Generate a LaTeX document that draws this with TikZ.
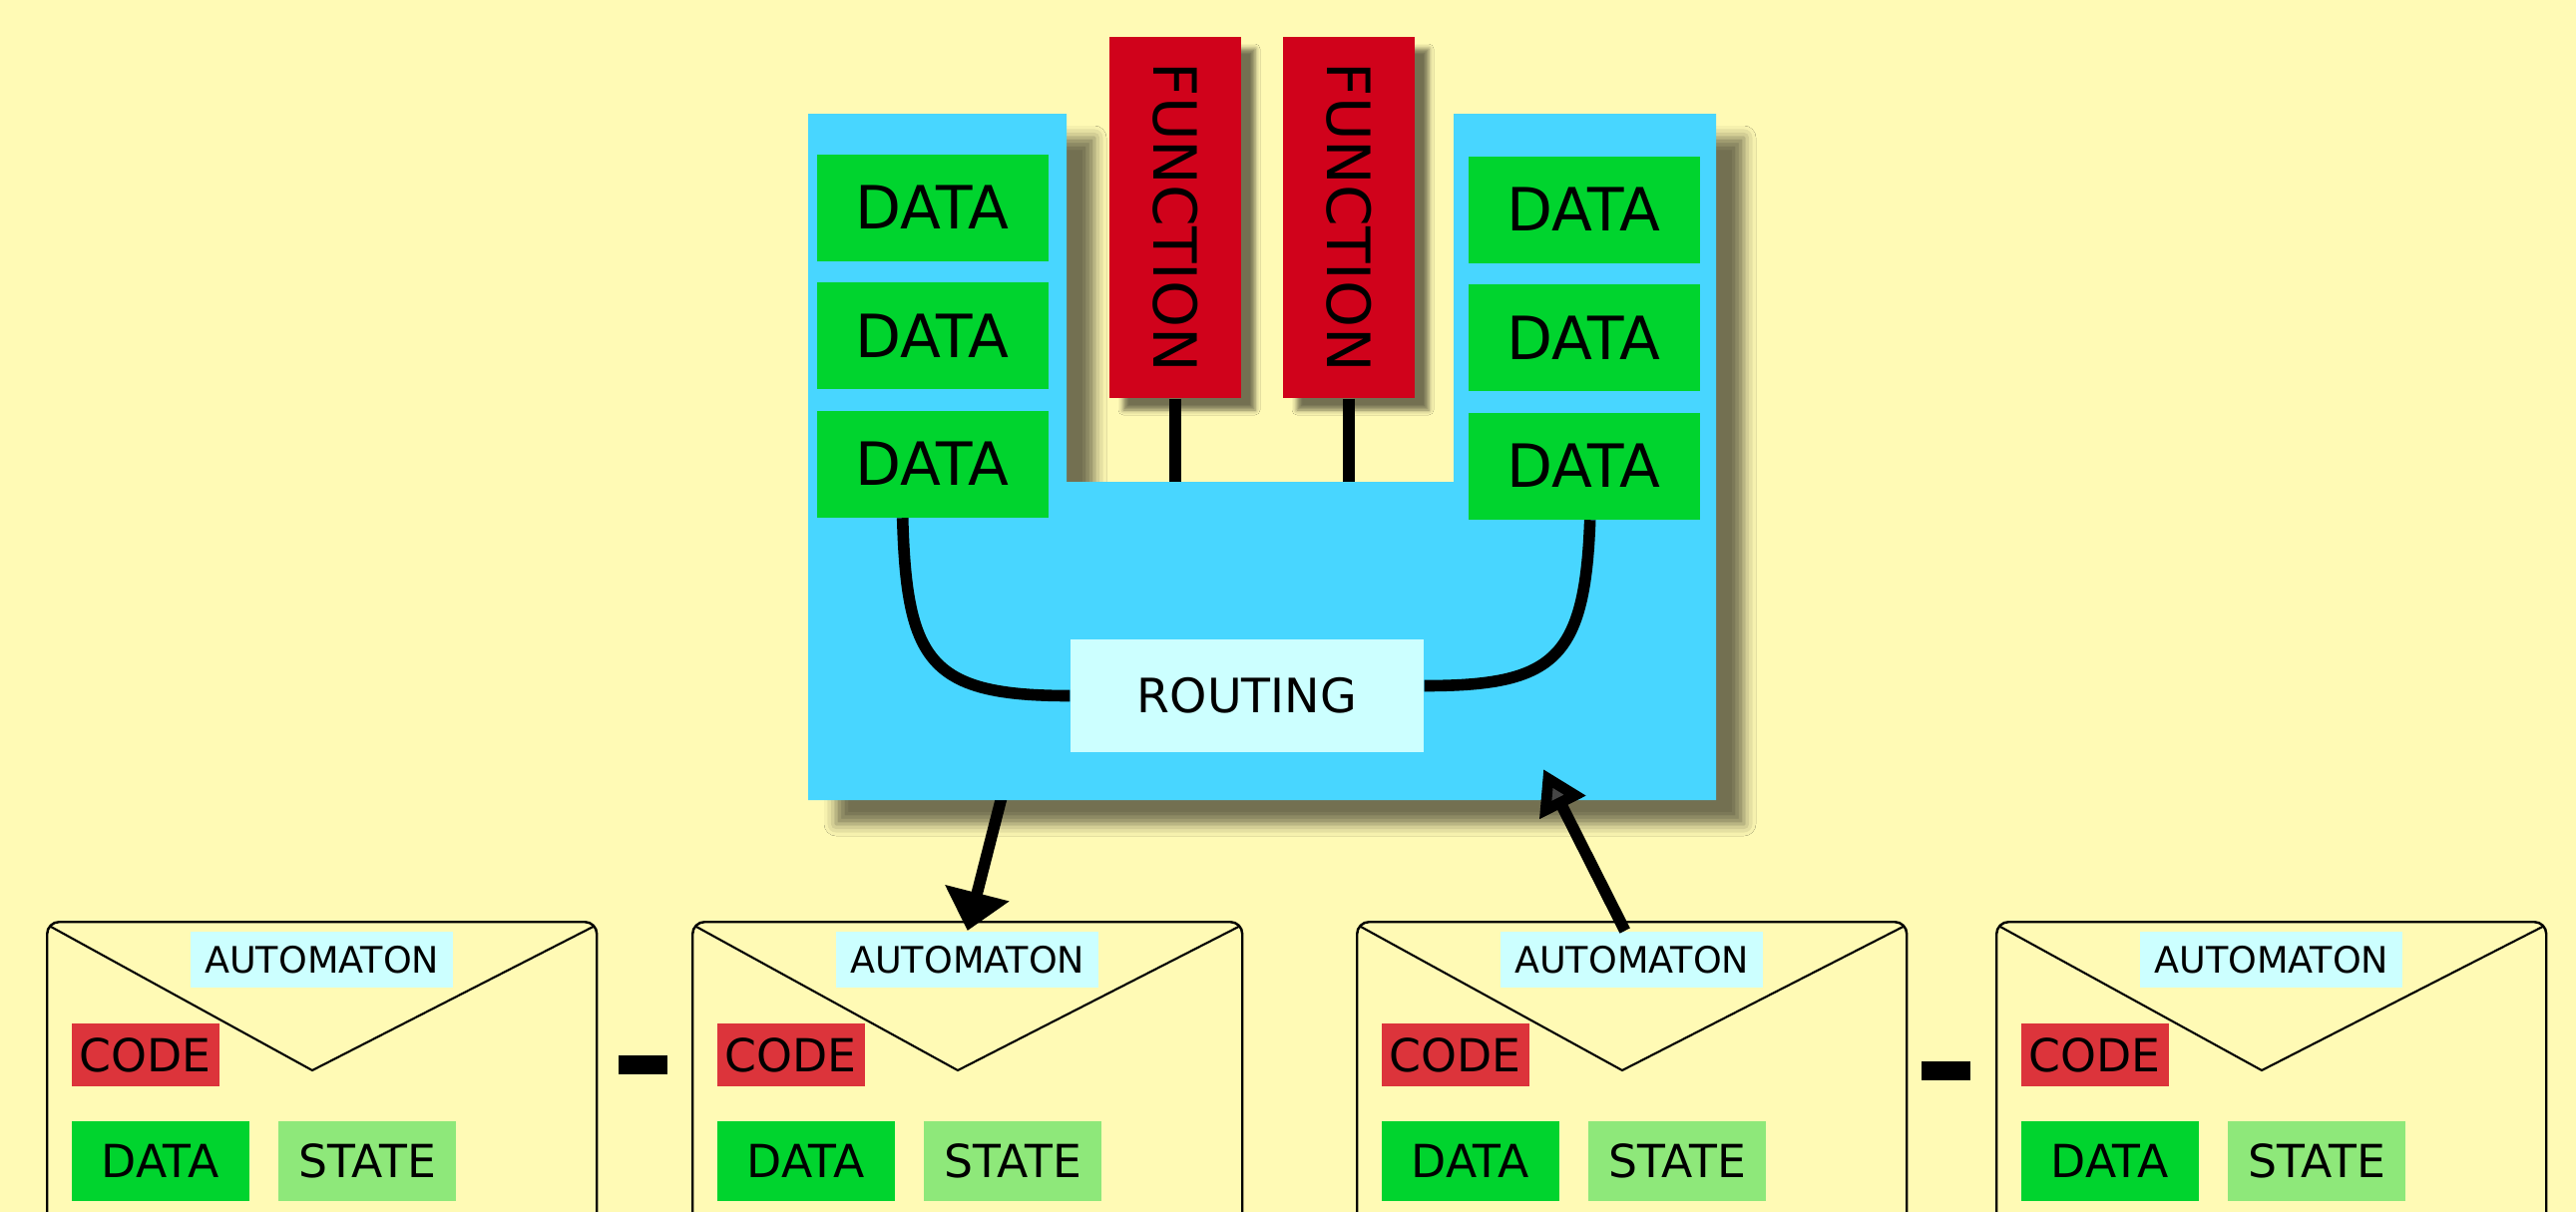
\documentclass[tikz,border=0pt]{standalone}
\usepackage{fontspec}
\setmainfont{DejaVu Sans}
\usepackage{graphicx}
\usetikzlibrary{positioning,arrows.meta,shadows.blur}

\definecolor{paper}{HTML}{FFFAB5}
\definecolor{sky}{HTML}{48D6FF}
\definecolor{leaf}{HTML}{00D42E}
\definecolor{blood}{HTML}{D0021B}
\definecolor{brick}{HTML}{DC343B}
\definecolor{mint}{HTML}{8EE87A}
\definecolor{ice}{HTML}{CCFFFF}

\begin{document}
\begin{tikzpicture}[
      every node/.style = {shape=rectangle, inner sep=0pt, align=center},
      hub/.style = {fill=sky,
        blur shadow={shadow xshift=2.8mm, shadow yshift=-2.4mm,
          shadow blur radius=1.2mm, shadow opacity=55}},
      bigdata/.style = {fill=leaf, minimum width=2.32cm, minimum height=1.07cm,
        font=\fontsize{17}{20}\selectfont},
      fun/.style = {fill=blood, minimum width=1.32cm, minimum height=3.62cm,
        font=\fontsize{17}{20}\selectfont,
        blur shadow={shadow xshift=1.4mm, shadow yshift=-1.2mm,
          shadow blur radius=0.5mm, shadow opacity=55}},
      routebox/.style = {fill=ice, minimum width=3.54cm, minimum height=1.13cm,
        font=\fontsize{13.5}{16}\selectfont},
      autobox/.style = {draw, line width=0.7pt, fill=paper, rounded corners=1.2mm,
        minimum width=5.51cm, minimum height=3.6cm, anchor=north west},
      autolabel/.style = {fill=ice, minimum width=2.63cm, minimum height=0.56cm,
        font=\fontsize{10.4}{12}\selectfont},
      codebox/.style = {fill=brick, minimum width=1.48cm, minimum height=0.635cm,
        font=\fontsize{13}{15}\selectfont},
      smalldata/.style = {fill=leaf, minimum width=1.78cm, minimum height=0.8cm,
        font=\fontsize{13}{15}\selectfont},
      statebox/.style = {fill=mint, minimum width=1.78cm, minimum height=0.8cm,
        font=\fontsize{13}{15}\selectfont},
      minusbar/.style = {fill=black, minimum width=0.49cm, minimum height=0.19cm},
      wire/.style = {line width=3.3pt},
      pointer/.style = {line width=3.3pt}]
  \useasboundingbox (0,0) rectangle (25.82,-12.15);
  \clip (0,0) rectangle (25.82,-12.15);
  \fill[paper] (0,0) rectangle (25.82,-12.15);

  % the automata
  \foreach \x/\n in {0.46/1, 6.93/2, 13.59/3, 20.00/4} {
    \node[autobox] (auto\n) at (\x,-9.23) {};
    \draw[line width=0.6pt] ([shift={(0.05,-0.06)}]auto\n.north west)
      -- ([shift={(2.67,-1.50)}]auto\n.north west)
      -- ([shift={(-0.05,-0.06)}]auto\n.north east);
    \node[autolabel, below=1mm of auto\n.north] (label\n) {AUTOMATON};
    \node[codebox, anchor=north west] (code\n) at ([shift={(0.25,-1.02)}]auto\n.north west) {CODE};
    \node[smalldata, below right=3.35mm and 0mm of code\n.south west] (data\n) {DATA};
    \node[statebox, right=2.8mm of data\n] (state\n) {STATE};
  }
  \node[minusbar] (minus1) at (6.44,-10.675) {};
  \node[minusbar] (minus2) at (19.50,-10.73) {};

  \coordinate (hubout) at (10.05,-7.95);
  \coordinate (hubin) at (15.47,-7.71);
  \coordinate (hubtop) at (10.69,-4.83);
  \draw[pointer, -{Triangle[width=6.4mm,length=3.9mm]}] (hubout) -- (label2.north);

  % the router block
  \path[hub] (8.10,-1.14) -- (10.69,-1.14) -- (hubtop) -- (14.57,-4.83)
    -- (14.57,-1.14) -- (17.20,-1.14) -- (17.20,-8.02) -- (8.10,-8.02) -- cycle;
  \node[fun] (fun1) at (11.78,-2.18) {\rotatebox{-90}{FUNCTION}};
  \node[fun] (fun2) at (13.52,-2.18) {\rotatebox{-90}{FUNCTION}};

  \node[bigdata, anchor=north west] (ldata1) at (8.18,-1.54) {DATA};
  \node[bigdata, below=2mm of ldata1] (ldata2) {DATA};
  \node[bigdata, below=2mm of ldata2] (ldata3) {DATA};
  \node[bigdata, anchor=north west] (rdata1) at (14.71,-1.56) {DATA};
  \node[bigdata, below=2mm of rdata1] (rdata2) {DATA};
  \node[bigdata, below=2mm of rdata2] (rdata3) {DATA};

  \node[routebox] (routing) at (12.50,-6.975) {ROUTING};

  \draw[wire] (fun1.south) -- (fun1.south |- hubtop);
  \draw[wire] (fun2.south) -- (fun2.south |- hubtop);
  \draw[wire] ([xshift=-3mm]ldata3.south) .. controls +(0.04,-1.45) and +(-1.4,0) .. (routing.west);
  \draw[wire] ([xshift=0.6mm]rdata3.south) .. controls +(-0.05,-1.4) and +(1.3,0) .. ([yshift=1mm]routing.east);
  \draw[pointer, -{Triangle[width=4.9mm,length=4.3mm]}] ([xshift=-0.7mm]label3.north) -- (hubin);
\end{tikzpicture}
\end{document}
